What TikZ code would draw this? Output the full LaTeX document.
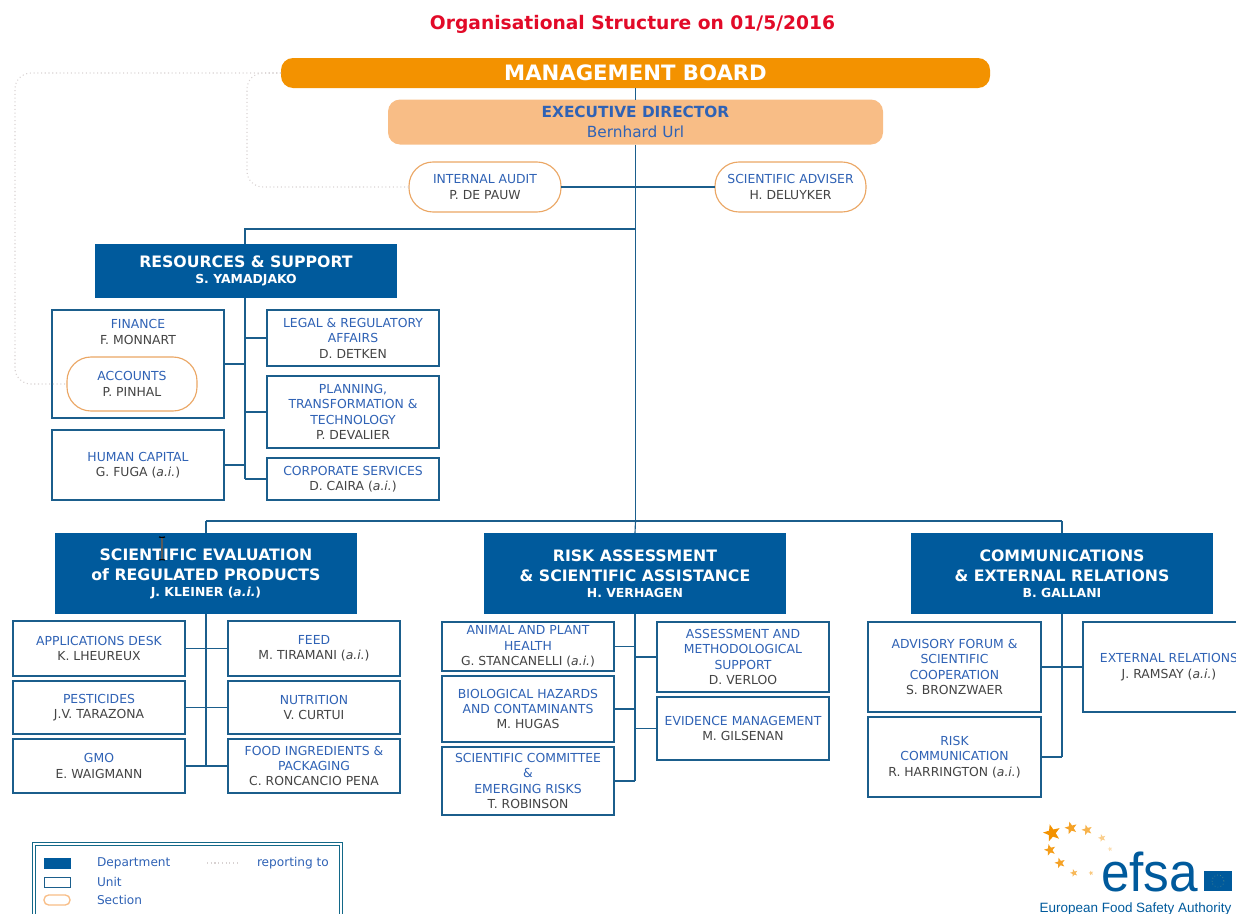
\documentclass[tikz,border=0pt]{standalone}
\usepackage{fontspec}
\setmainfont{DejaVu Sans}
\newfontfamily\logofont{Liberation Sans}
\usetikzlibrary{shapes.geometric}
\definecolor{deptblue}{HTML}{005A9C}
\definecolor{linkblue}{HTML}{1B5E8C}
\definecolor{nameblue}{HTML}{2F62B5}
\definecolor{persongray}{HTML}{444444}
\definecolor{boardorange}{HTML}{F39200}
\definecolor{execorange}{HTML}{F8BD86}
\definecolor{sectionorange}{HTML}{EBA765}
\definecolor{dotgray}{HTML}{D8D2D2}
\newcommand{\person}[1]{\textcolor{persongray}{#1}}
\newcommand{\ai}{(\textit{a.i.})}
\newcommand{\head}[1]{{\fontsize{9.3}{11.6}\selectfont #1}}
\tikzset{
    sized/.style 2 args={minimum width=#1*0.75pt, minimum height=#2*0.75pt},
    boxtext/.style={align=center, inner sep=0pt, outer sep=0pt},
    unitbox/.style={boxtext, draw=linkblue, line width=0.85pt, fill=white, text=nameblue,
        font=\fontsize{9.3}{11.6}\selectfont},
    sectionbox/.style={unitbox, draw=sectionorange, rounded corners=18pt},
    deptbox/.style={boxtext, fill=deptblue, text=white, font=\fontsize{11.8}{15}\bfseries\selectfont},
    link/.style={draw=linkblue, line width=0.85pt},
    reporting/.style={draw=dotgray, line width=0.8pt, dotted, rounded corners=12pt},
    legendtext/.style={boxtext, anchor=west, text=nameblue, font=\fontsize{9.1}{10}\selectfont},
    logostar/.style={star, star points=5, star point ratio=2.4, inner sep=0pt, rotate=15},
}
\begin{document}
\begin{tikzpicture}[x=0.75pt, y=-0.75pt]
    \useasboundingbox (0,0) rectangle (1236,914);
    \node[boxtext, text={rgb,255:red,226;green,10;blue,40}, font=\fontsize{14}{15}\bfseries\selectfont] (title) at (632.5,24) {Organisational Structure on 01/5/2016};

    % top of the chart
    \node[boxtext, sized={709}{30}, fill=boardorange, rounded corners=9pt, text=white,
        font=\fontsize{15.9}{18}\bfseries\selectfont] (board) at (635.5,73) {MANAGEMENT BOARD};
    \node[boxtext, sized={495}{45}, fill=execorange, rounded corners=9pt, text=nameblue,
        font=\fontsize{11.5}{14.4}\selectfont] (exec) at (635.5,122) {\textbf{EXECUTIVE DIRECTOR}\\Bernhard Url};
    \node[sectionbox, sized={152}{50}] (audit) at (485,187) {INTERNAL AUDIT\\\person{P. DE PAUW}};
    \node[sectionbox, sized={151}{50}] (adviser) at (790.5,187) {SCIENTIFIC ADVISER\\\person{H. DELUYKER}};

    % resources
    \node[deptbox, sized={302}{54}] (resources) at (246,271) {RESOURCES \& SUPPORT\\[-3pt]\head{S. YAMADJAKO}};
    \node[unitbox, sized={172}{108}] (finance) at (138,364) {};
    \node[boxtext, text=nameblue, font=\fontsize{9.3}{11.6}\selectfont] (financetext) at (138,332) {FINANCE\\\person{F. MONNART}};
    \node[sectionbox, sized={130}{54}] (accounts) at (132,384) {ACCOUNTS\\\person{P. PINHAL}};
    \node[unitbox, sized={172}{70}] (capital) at (138,465) {HUMAN CAPITAL\\\person{G. FUGA \ai}};
    \node[unitbox, sized={172}{56}] (legal) at (353,338) {LEGAL \& REGULATORY\\AFFAIRS\\\person{D. DETKEN}};
    \node[unitbox, sized={172}{72}] (planning) at (353,412) {PLANNING,\\TRANSFORMATION \&\\TECHNOLOGY\\\person{P. DEVALIER}};
    \node[unitbox, sized={172}{42}] (corporate) at (353,479) {CORPORATE SERVICES\\\person{D. CAIRA \ai}};

    % scientific evaluation
    \node[deptbox, sized={302}{81}] (evaluation) at (206,573.5) {SCIENTIFIC EVALUATION\\of REGULATED PRODUCTS\\[-3pt]\head{J. KLEINER \ai}};
    \node[unitbox, sized={172}{55}] (desk) at (99,648.5) {APPLICATIONS DESK\\\person{K. LHEUREUX}};
    \node[unitbox, sized={172}{53}] (pesticides) at (99,707.5) {PESTICIDES\\\person{J.V. TARAZONA}};
    \node[unitbox, sized={172}{54}] (gmo) at (99,766) {GMO\\\person{E. WAIGMANN}};
    \node[unitbox, sized={172}{55}] (feed) at (314,648.5) {FEED\\\person{M. TIRAMANI \ai}};
    \node[unitbox, sized={172}{53}] (nutrition) at (314,707.5) {NUTRITION\\\person{V. CURTUI}};
    \node[unitbox, sized={172}{54}] (food) at (314,766) {FOOD INGREDIENTS \&\\PACKAGING\\\person{C. RONCANCIO PENA}};

    % risk assessment
    \node[deptbox, sized={302}{81}] (assessment) at (635,573.5) {RISK ASSESSMENT\\\& SCIENTIFIC ASSISTANCE\\[-3pt]\head{H. VERHAGEN}};
    \node[unitbox, sized={172}{49}] (animal) at (528,646.5) {ANIMAL AND PLANT\\HEALTH\\\person{G. STANCANELLI \ai}};
    \node[unitbox, sized={172}{66}] (hazards) at (528,709) {BIOLOGICAL HAZARDS\\AND CONTAMINANTS\\\person{M. HUGAS}};
    \node[unitbox, sized={172}{68}] (committee) at (528,781) {SCIENTIFIC COMMITTEE\\\&\\EMERGING RISKS\\\person{T. ROBINSON}};
    \node[unitbox, sized={172}{70}] (methods) at (743,657) {ASSESSMENT AND\\METHODOLOGICAL\\SUPPORT\\\person{D. VERLOO}};
    \node[unitbox, sized={172}{63}] (evidence) at (743,728.5) {EVIDENCE MANAGEMENT\\\person{M. GILSENAN}};

    % communications
    \node[deptbox, sized={302}{81}] (communications) at (1062,573.5) {COMMUNICATIONS\\\& EXTERNAL RELATIONS\\[-3pt]\head{B. GALLANI}};
    \node[unitbox, sized={173}{90}] (advisory) at (954.5,667) {ADVISORY FORUM \&\\SCIENTIFIC\\COOPERATION\\\person{S. BRONZWAER}};
    \node[unitbox, sized={173}{80}] (riskcomm) at (954.5,757) {RISK\\COMMUNICATION\\\person{R. HARRINGTON \ai}};
    \node[unitbox, sized={172}{90}] (external) at (1169,667) {EXTERNAL RELATIONS\\\person{J. RAMSAY \ai}};

    % joints of the trunk
    \coordinate (resjoin) at (245,229);
    \coordinate (deptjoin) at (635.5,521);
    \coordinate (evaljoin) at (206,521);
    \coordinate (commjoin) at (1062,521);

    \draw[link] (board) -- (exec);
    \draw[link] (exec) -- (deptjoin);
    \draw[link] (audit) -- (adviser);
    \draw[link] (exec.south |- resjoin) -- (resjoin) -- (resources.north -| resjoin);
    \draw[link] (evaljoin) -- (commjoin);
    \foreach \dept in {evaluation,communications}
        \draw[link] (\dept.north |- deptjoin) -- (\dept.north);
    \draw[link] (deptjoin) -- (assessment.north);
    % units hanging from each department
    \draw[link] (resources.south -| resjoin) -- (resjoin |- corporate);
    \foreach \unit in {finance,capital}
        \draw[link] (\unit.east) -- (\unit.east -| resjoin);
    \foreach \unit in {legal,planning,corporate}
        \draw[link] (\unit.west) -- (\unit.west -| resjoin);
    \draw[link] (evaluation.south) -- (evaluation.south |- gmo);
    \draw[link] (desk) -- (feed);
    \draw[link] (pesticides) -- (nutrition);
    \draw[link] (gmo) -- (food);
    \draw[link] (assessment.south) -- (assessment.south |- committee);
    \foreach \unit in {animal,hazards,committee}
        \draw[link] (\unit.east) -- (\unit.east -| assessment.south);
    \foreach \unit in {methods,evidence}
        \draw[link] (\unit.west) -- (\unit.west -| assessment.south);
    \draw[link] (communications.south) -- (communications.south |- riskcomm);
    \draw[link] (advisory) -- (external);
    \draw[link] (riskcomm.east) -- (riskcomm.east -| communications.south);

    % dotted reporting lines
    \draw[reporting] (board.west) -- (15,73) -- (15,384) -- (accounts.west);
    \draw[reporting] (board.west) -- (247,73) -- (247,187) -- (audit.west);

    % text cursor over the heading
    \draw[white, line width=2pt] (162,537) -- (162,560);
    \draw[black, line width=0.9pt] (159,537) -- (162,537.5) -- (162,559.5) -- (159,560);
    \draw[black, line width=0.9pt] (165,537) -- (162,537.5) (162,559.5) -- (165,560);

    % legend
    \draw[linkblue!70!teal, line width=0.6pt, double=white, double distance=1.2pt] (34,930) -- (34,844) -- (341,844) -- (341,930);
    \node[boxtext, sized={27}{11}, fill=deptblue] (legenddept) at (57,863.5) {};
    \node[boxtext, sized={26}{10}, draw=linkblue, line width=0.6pt] (legendunit) at (57,882) {};
    \node[boxtext, sized={26}{10}, draw=execorange, line width=1pt, rounded corners=3.5pt] (legendsection) at (57,900) {};
    \node[legendtext] (deptlabel) at (97,863.5) {Department};
    \node[legendtext] (unitlabel) at (97,882) {Unit};
    \node[legendtext] (sectionlabel) at (97,899.5) {Section};
    \node[legendtext] (reportlabel) at (257,863.5) {reporting to};
    \coordinate (dotstart) at (207,863);
    \coordinate (dotend) at (240,863);
    \draw[draw=dotgray, line width=0.8pt, dotted] (dotstart) -- (dotend);

    % logo
    \foreach \i/\px/\py/\sz/\op in {1/1052/833/18/100,2/1071/828/13/85,3/1087/830/11/70,4/1102/838/8/45,5/1110/849/5/30,
        6/1050/850/12/90,7/1060/863/11/85,8/1074/873/8/65,9/1091/873/5/50}
        \node[logostar, fill=boardorange!\op, minimum size=\sz*0.75pt] (star\i) at (\px,\py) {};
    \node[boxtext, text=deptblue, font=\logofont\fontsize{41}{41}\selectfont, anchor=base west, xscale=0.94] (efsa) at (1101,891) {efsa};
    \node[boxtext, sized={28}{20}, fill=deptblue] (flag) at (1218,881) {};
    \draw[yellow!60!white, line width=0.3pt, dotted] (flag) circle (6);
    \node[boxtext, text=deptblue, font=\logofont\fontsize{10.1}{10}\selectfont] (authority) at (1135.5,909) {European Food Safety Authority};
\end{tikzpicture}
\end{document}
